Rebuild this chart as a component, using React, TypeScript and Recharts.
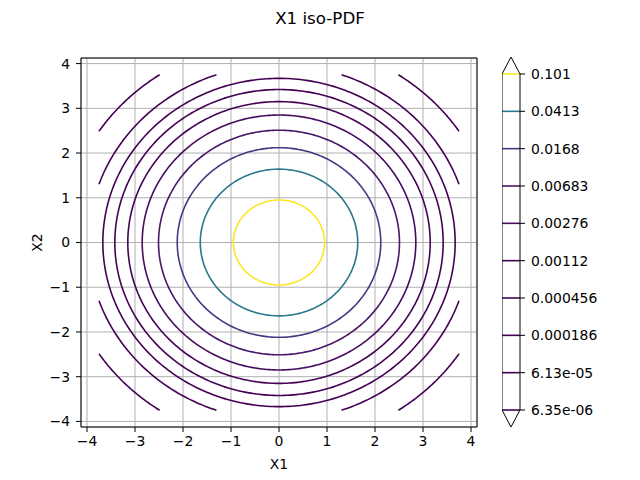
import { ComposedChart, Line, XAxis, YAxis, CartesianGrid, ReferenceLine, Label } from 'recharts'

document.body.style.margin = '0'

// contour levels of the colorbar, lowest first
const levels = ['6.35e-06', '6.13e-05', '0.000186', '0.000456', '0.00112', '0.00276', '0.00683', '0.0168', '0.0413', '0.101']
// radius of each iso-PDF circle
const radii = [4.5, 3.97, 3.67, 3.42, 3.15, 2.85, 2.51, 2.12, 1.64, 0.95]
const colors = ['#440154', '#440154', '#440154', '#440255', '#440356', '#460b5e', '#481769', '#443a83', '#2a788e', '#fde725']

const axisTicks = [-4, -3, -2, -1, 0, 1, 2, 3, 4]
const gridHalf = 3.75 // the evaluated grid spans [-3.75, 3.75]
const axisHalf = 4.125
const ext = 0.455 // colorbar extension triangles

const font = 'DejaVu Sans'
const minus = (v: number) => String(v).replace('-', '\u2212')

type Pt = { x: number; y: number | null }

// circle of given radius, cut where it leaves the evaluated grid
function contour(r: number): Pt[] {
  const arc = (a0: number, a1: number, n: number) =>
    Array.from({ length: n + 1 }, (_, i) => {
      const a = a0 + ((a1 - a0) * i) / n
      return { x: r * Math.cos(a), y: r * Math.sin(a) }
    })
  if (r <= gridHalf) return arc(0, Math.PI * 2, 360)
  const a1 = Math.acos(gridHalf / r)
  const a2 = Math.asin(gridHalf / r)
  const out: Pt[] = []
  const spans = [
    [a1, a2],
    [Math.PI - a2, Math.PI - a1],
    [Math.PI + a1, Math.PI + a2],
    [2 * Math.PI - a2, 2 * Math.PI - a1],
  ]
  spans.forEach(([s, e], k) => {
    if (k > 0) out.push({ x: 0, y: null })
    out.push(...arc(s, e, 60))
  })
  return out
}

const contours = radii.map(contour)

const cbIdx = levels.map((_, i) => i)
const cbOutline = [
  { x: 0, y: 0 },
  { x: 0, y: 9 },
  { x: 0.5, y: 9 + ext },
  { x: 1, y: 9 },
  { x: 1, y: 0 },
  { x: 0.5, y: -ext },
  { x: 0, y: 0 },
]

const tickStyle = { fontSize: 13.9, fill: '#000', fontFamily: font }

export default function App() {
  return (
    <div style={{ position: 'relative', width: 640, height: 480, background: '#fff', fontFamily: font }}>
      <div style={{ position: 'absolute', top: 8, left: 0, width: 640, textAlign: 'center', fontSize: 16.7, lineHeight: '20px' }}>
        X1 iso-PDF
      </div>
      <div style={{ position: 'absolute', left: 0, top: 0 }}>
        <ComposedChart width={490} height={480} margin={{ top: 58, right: 13, left: 0, bottom: 0 }}>
          <CartesianGrid stroke="#b0b0b0" strokeWidth={1} />
          <XAxis
            type="number"
            dataKey="x"
            domain={[-axisHalf, axisHalf]}
            ticks={axisTicks}
            tickFormatter={minus}
            allowDataOverflow
            height={53}
            tick={tickStyle}
            tickSize={5}
            tickMargin={4}
            stroke="#000"
          >
            <Label value="X1" position="insideBottom" offset={11} style={{ fontSize: 13.9, fill: '#000', fontFamily: font }} />
          </XAxis>
          <YAxis
            type="number"
            domain={[-axisHalf, axisHalf]}
            ticks={axisTicks}
            tickFormatter={minus}
            allowDataOverflow
            width={81}
            tick={tickStyle}
            tickSize={5}
            tickMargin={6}
            stroke="#000"
          >
            <Label
              content={({ viewBox }: any) => (
                <text
                  x={viewBox.x + 37}
                  y={viewBox.y + viewBox.height / 2}
                  transform={`rotate(-90 ${viewBox.x + 37} ${viewBox.y + viewBox.height / 2})`}
                  textAnchor="middle"
                  dominantBaseline="central"
                  fontSize={13.9}
                  fontFamily={font}
                  fill="#000"
                >
                  X2
                </text>
              )}
            />
          </YAxis>
          <ReferenceLine x={axisHalf} stroke="#000" ifOverflow="visible" />
          <ReferenceLine y={axisHalf} stroke="#000" ifOverflow="visible" />
          {contours.map((pts, i) => (
            <Line
              key={i}
              data={pts}
              dataKey="y"
              type="linear"
              stroke={colors[i]}
              strokeWidth={1.6}
              dot={false}
              activeDot={false}
              connectNulls={false}
              isAnimationActive={false}
            />
          ))}
        </ComposedChart>
      </div>
      <div style={{ position: 'absolute', left: 502, top: 0 }}>
        <ComposedChart width={128} height={480} margin={{ top: 57, right: 0, left: 0, bottom: 53 }}>
          <XAxis type="number" dataKey="x" domain={[0, 1]} hide />
          <YAxis
            type="number"
            orientation="right"
            domain={[-ext, 9 + ext]}
            ticks={cbIdx}
            tickFormatter={(i: number) => levels[i]}
            axisLine={false}
            tickLine={{ stroke: '#000' }}
            tickSize={5}
            tickMargin={6}
            width={110}
            tick={tickStyle}
          />
          {cbIdx.map((i) => (
            <Line
              key={i}
              data={[{ x: 0, y: i }, { x: 1, y: i }]}
              dataKey="y"
              stroke={colors[i]}
              strokeWidth={1.6}
              dot={false}
              activeDot={false}
              isAnimationActive={false}
            />
          ))}
          <Line
            data={cbOutline}
            dataKey="y"
            stroke="#000"
            strokeWidth={1}
            dot={false}
            activeDot={false}
            isAnimationActive={false}
          />
        </ComposedChart>
      </div>
    </div>
  )
}
